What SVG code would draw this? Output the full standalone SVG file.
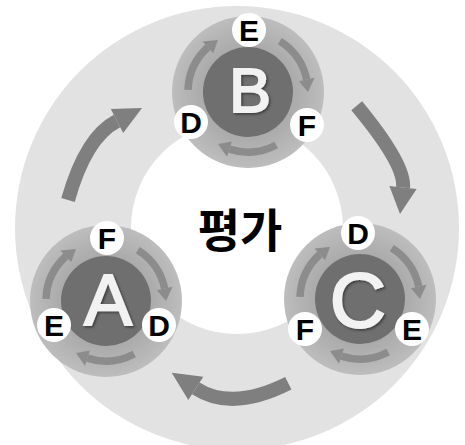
<svg xmlns="http://www.w3.org/2000/svg" xmlns:xlink="http://www.w3.org/1999/xlink" width="465" height="445" viewBox="0 0 465 445">
<style>
.big{fill:none;stroke:#7f7f7f;stroke-width:14}
.bighead{fill:#7f7f7f}
.disk{fill:url(#diskGrad)}
.core{fill:#6f6f6f}
.sarc{fill:none;stroke:#8c8c8c;stroke-width:7.5}
.shead{fill:#8c8c8c}
.dot{fill:#ffffff}
.sl{font-family:"Liberation Sans",Arial,sans-serif;font-weight:bold;font-size:30px;fill:#000;text-anchor:middle}
.bl{font-family:"Liberation Sans",Arial,sans-serif;font-weight:normal;fill:#f2f2f2;stroke:#f2f2f2;stroke-width:2;text-anchor:middle;filter:url(#sh)}
.ko{font-family:"Noto Sans CJK KR","Noto Sans CJK SC",sans-serif;font-weight:bold;font-size:46px;fill:#000;text-anchor:middle}
</style>
<defs>
<filter id="sh" x="-30%" y="-30%" width="160%" height="160%">
<feDropShadow dx="1.5" dy="1.5" stdDeviation="1.2" flood-color="#333" flood-opacity="0.8"/>
</filter>
<radialGradient id="diskGrad" cx="0.5" cy="0.5" r="0.5">
<stop offset="0.6" stop-color="#ababab"/>
<stop offset="1" stop-color="#bdbdbd"/>
</radialGradient>
<g id="cycle">
<path class="sarc" d="M-59.96 -2.09 A60 60 0 0 1 -40.15 -44.59"/>
<polygon class="shead" points="-34.79,-38.64 -30,-51.96 -45.5,-50.53"/>
<path class="sarc" d="M31.8 -50.88 A60 60 0 0 1 58.69 -12.47"/>
<polygon class="shead" points="50.86,-10.81 60,0 66.51,-14.14"/>
<path class="sarc" d="M28.17 52.98 A60 60 0 0 1 -18.54 57.06"/>
<polygon class="shead" points="-16.07,49.46 -30,51.96 -21.01,64.67"/>
</g>
</defs>
<g id="ring">
<circle cx="237" cy="228" r="222" fill="#e2e2e2"/>
<circle cx="237" cy="228" r="106" fill="#ffffff"/>
</g>
<g id="connectors">
<path class="big" d="M68 200 Q85.7 137.1 117 121"/>
<polygon class="bighead" points="110.8,109 142,108 123.2,133"/>
<path class="big" d="M356.7 105.8 Q405.5 164.6 403 187.5"/>
<polygon class="bighead" points="389.4,186 400,214 416.6,189"/>
<path class="big" d="M288.3 383.3 Q232.1 411.7 195.8 388.3"/>
<polygon class="bighead" points="203.3,376.7 171.7,372.7 188.3,400"/>
</g>
<g id="node-B">
<circle class="disk" cx="248" cy="92" r="76"/>
<circle class="core" cx="248" cy="92" r="45"/>
<use xlink:href="#cycle" x="248" y="92"/>
<text class="bl" x="250" y="112" font-size="63">B</text>
<circle class="dot" cx="249" cy="30" r="17"/>
<circle class="dot" cx="191" cy="122" r="17"/>
<circle class="dot" cx="307" cy="125" r="17"/>
<text class="sl" x="249" y="41">E</text>
<text class="sl" x="191" y="133">D</text>
<text class="sl" x="307" y="136">F</text>
</g>
<g id="node-A">
<circle class="disk" cx="106" cy="301" r="76"/>
<circle class="core" cx="106" cy="301" r="45"/>
<use xlink:href="#cycle" x="106" y="301"/>
<text class="bl" x="108" y="325" font-size="72">A</text>
<circle class="dot" cx="107" cy="238" r="17"/>
<circle class="dot" cx="54" cy="325" r="17"/>
<circle class="dot" cx="159" cy="325" r="17"/>
<text class="sl" x="107" y="249">F</text>
<text class="sl" x="54" y="336">E</text>
<text class="sl" x="159" y="336">D</text>
</g>
<g id="node-C">
<circle class="disk" cx="360" cy="299" r="76"/>
<circle class="core" cx="360" cy="299" r="45"/>
<use xlink:href="#cycle" x="360" y="299"/>
<text class="bl" x="358" y="327" font-size="78">C</text>
<circle class="dot" cx="358" cy="233" r="17"/>
<circle class="dot" cx="305" cy="329" r="17"/>
<circle class="dot" cx="412" cy="329" r="17"/>
<text class="sl" x="358" y="244">D</text>
<text class="sl" x="305" y="340">F</text>
<text class="sl" x="412" y="340">E</text>
</g>
<g id="center-label">
<text class="ko" x="240" y="247">평가</text>
</g>
</svg>
